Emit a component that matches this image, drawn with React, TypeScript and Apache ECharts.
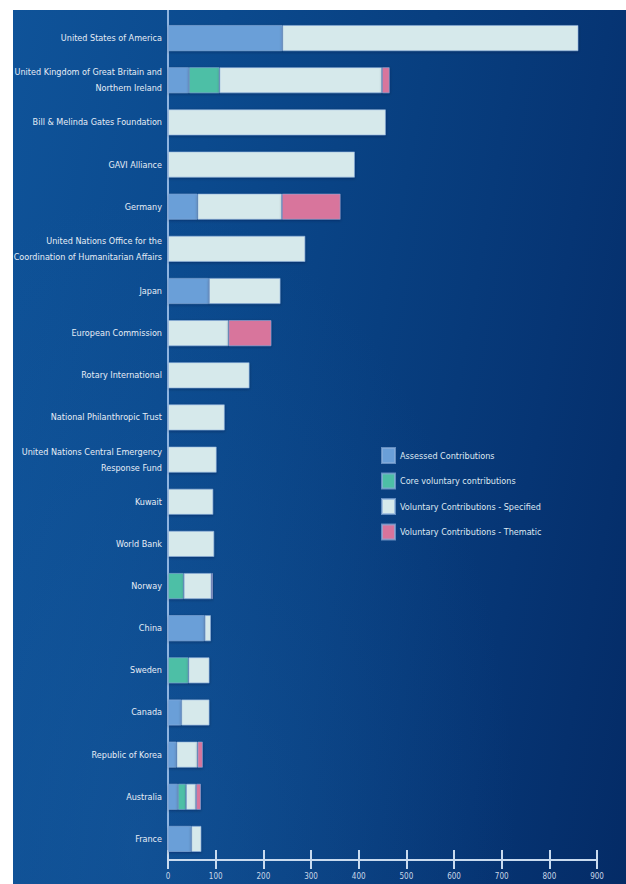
import React, { useEffect, useRef } from "react";
import * as echarts from "echarts";

const categories = [
  "United States of America",
  "United Kingdom of Great Britain and\nNorthern Ireland",
  "Bill & Melinda Gates Foundation",
  "GAVI Alliance",
  "Germany",
  "United Nations Office for the\nCoordination of Humanitarian Affairs",
  "Japan",
  "European Commission",
  "Rotary International",
  "National Philanthropic Trust",
  "United Nations Central Emergency\nResponse Fund",
  "Kuwait",
  "World Bank",
  "Norway",
  "China",
  "Sweden",
  "Canada",
  "Republic of Korea",
  "Australia",
  "France",
];

const assessed = [240, 44, 0, 0, 62, 0, 86, 0, 0, 0, 0, 0, 0, 0, 77, 0, 28, 18, 21, 49];
const coreVoluntary = [0, 64, 0, 0, 0, 0, 0, 0, 0, 0, 0, 0, 0, 33, 0, 43, 0, 0, 17, 0];
const specified = [621, 341, 457, 392, 177, 288, 150, 127, 171, 119, 102, 95, 97, 58, 13, 44, 59, 44, 21, 21];
const thematic = [0, 16, 0, 0, 123, 0, 0, 90, 0, 0, 0, 0, 0, 3, 0, 0, 0, 11, 10, 0];

const seriesNames = [
  "Assessed Contributions",
  "Core voluntary contributions",
  "Voluntary Contributions - Specified",
  "Voluntary Contributions - Thematic",
];
const seriesColors = ["#6a9fd8", "#4dbfa6", "#d6e9eb", "#d8749c"];
const xTicks = [0, 100, 200, 300, 400, 500, 600, 700, 800, 900];

const FONT = "'DejaVu Sans Condensed', 'Liberation Sans Narrow', sans-serif";

export default function App() {
  const ref = useRef<HTMLDivElement>(null);
  useEffect(() => {
    if (!ref.current) return;
    const chart = echarts.init(ref.current, undefined, { renderer: "svg" });
    const values = [assessed, coreVoluntary, specified, thematic];
    chart.setOption({
      animation: false,
      backgroundColor: "transparent",
      textStyle: { fontFamily: FONT },
      legend: {
        orient: "vertical",
        left: 376,
        top: 442,
        itemWidth: 13,
        itemHeight: 15,
        itemGap: 8.5,
        icon: "rect",
        textStyle: { color: "#dfe8f2", fontSize: 9, lineHeight: 15, fontFamily: FONT },
        data: seriesNames,
      },
      grid: { left: 168, right: 29, top: 17, bottom: 24, containLabel: false, outerBoundsMode: "none" },
      xAxis: [
        {
          type: "value",
          min: 0,
          max: 900,
          interval: 100,
          axisLine: { show: true, lineStyle: { color: "#c9dbef", width: 2 } },
          axisTick: { show: true, length: 9, lineStyle: { color: "#c9dbef", width: 2 } },
          axisLabel: {
            color: "#c9d7e8",
            fontSize: 8,
            margin: 12,
            fontFamily: FONT,
            formatter: (v: number) => (xTicks.includes(v) ? String(v) : ""),
          },
          splitLine: { show: false },
        },
        {
          type: "value",
          position: "bottom",
          min: 0,
          max: 900,
          interval: 100,
          axisLine: { show: false },
          axisTick: { show: true, inside: true, length: 10, lineStyle: { color: "#c9dbef", width: 2 } },
          axisLabel: { show: false },
          splitLine: { show: false },
        },
      ],
      yAxis: {
        type: "category",
        inverse: true,
        data: categories,
        axisLine: { show: true, lineStyle: { color: "#8fb4e0", width: 2 } },
        axisTick: { show: false },
        axisLabel: {
          color: "#e6edf6",
          fontSize: 9,
          margin: 6,
          lineHeight: 16,
          fontFamily: FONT,
          align: "right",
        },
      },
      graphic: [
        {
          type: "line",
          shape: { x1: 168, y1: 10, x2: 168, y2: 18 },
          style: { stroke: "#8fb4e0", lineWidth: 2 },
          silent: true,
        },
      ],
      series: seriesNames.map((name, i) => ({
        name,
        type: "bar",
        stack: "total",
        barWidth: 26,
        xAxisIndex: 0,
        itemStyle: {
          color: seriesColors[i],
          borderColor: "rgba(140,175,220,0.7)",
          borderWidth: 0.8,
          shadowColor: "rgba(0,10,40,0.35)",
          shadowBlur: 3,
          shadowOffsetY: 1,
        },
        data: values[i].map((v) => (v === 0 ? null : v)),
      })),
    });
    return () => chart.dispose();
  }, []);

  return (
    <div style={{ position: "absolute", left: 0, top: 0, width: 626, height: 884, background: "#ffffff", overflow: "hidden" }}>
      <div
        style={{
          position: "absolute",
          left: 13,
          top: 10,
          right: 0,
          bottom: 0,
          background:
            "radial-gradient(ellipse at 20% 95%, rgba(30,100,170,0.35), rgba(0,0,0,0) 55%), linear-gradient(100deg, #0f5399 0%, #0b4a8e 28%, #083f80 55%, #063574 78%, #042b66 100%)",
        }}
      />
      <div ref={ref} style={{ position: "absolute", left: 0, top: 0, width: 626, height: 884 }} />
    </div>
  );
}
